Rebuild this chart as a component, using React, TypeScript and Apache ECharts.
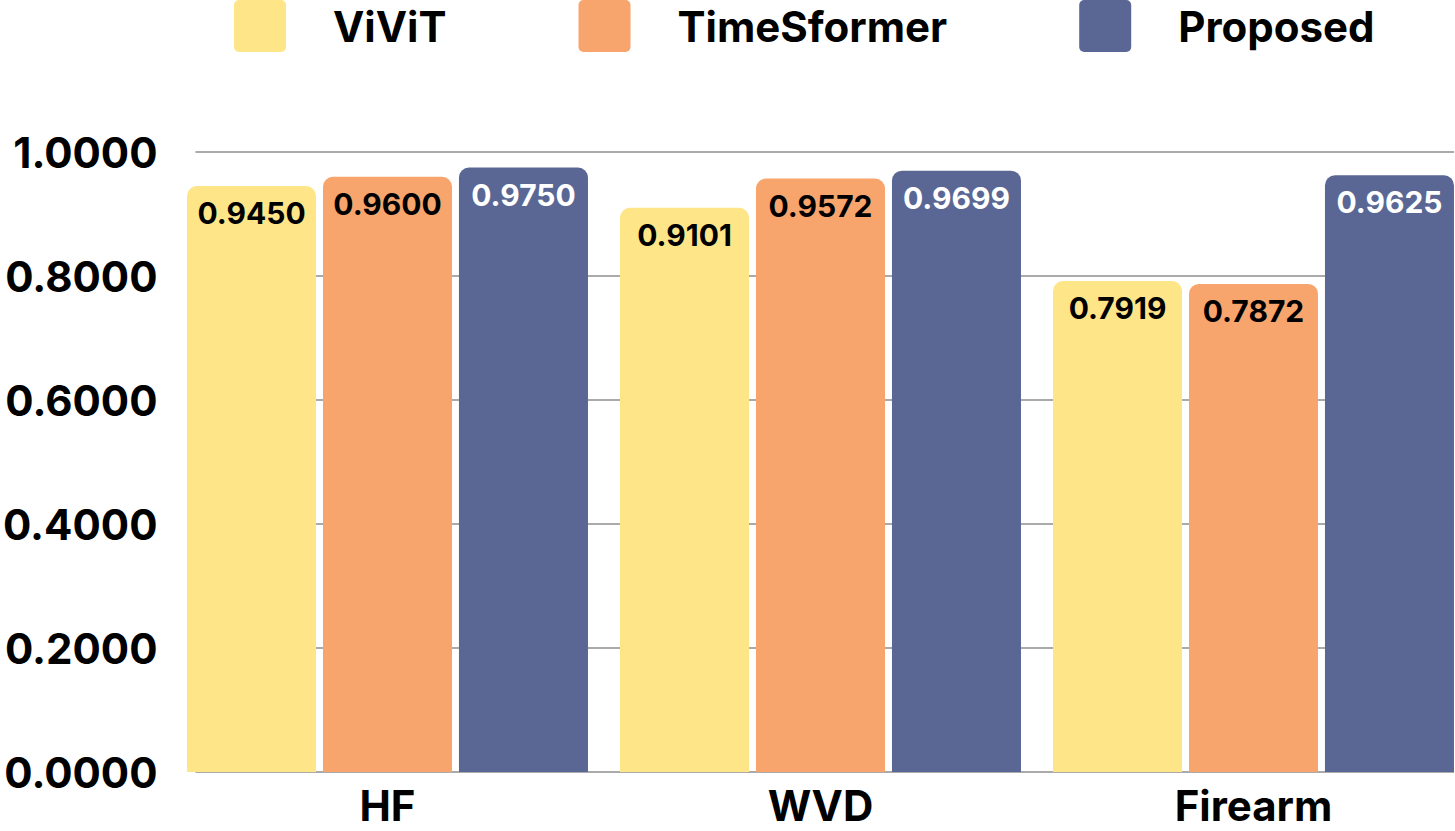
import React, { useEffect, useRef } from "react";
import * as echarts from "echarts";

const categories = ["HF", "WVD", "Firearm"];
const seriesNames = ["ViViT", "TimeSformer", "Proposed"];
const vivit = [0.945, 0.9101, 0.7919];
const timesformer = [0.96, 0.9572, 0.7872];
const proposed = [0.975, 0.9699, 0.9625];
const colors = ["#FDE588", "#F7A46D", "#5A6794"];
const labelColors = ["#000000", "#000000", "#FFFFFF"];

const FONT = "Inter";

export default function App() {
  const ref = useRef<HTMLDivElement>(null);
  useEffect(() => {
    document.body.style.margin = "0";
    document.body.style.overflow = "hidden";
    const chart = echarts.init(ref.current!, null, { renderer: "svg" });
    const values = [vivit, timesformer, proposed];
    const iconPath =
      "path://M5,0 H47 A5,5 0 0 1 52,5 V47 A5,5 0 0 1 47,52 H5 A5,5 0 0 1 0,47 V5 A5,5 0 0 1 5,0 Z";
    chart.setOption({
      animation: false,
      textStyle: { fontFamily: FONT },
      legend: {
        left: 234,
        top: 0,
        padding: 0,
        itemWidth: 52,
        itemHeight: 52,
        itemGap: 132,
        icon: iconPath,
        data: seriesNames,
        textStyle: {
          fontFamily: FONT,
          fontSize: 42,
          fontWeight: "bold",
          color: "#000",
          padding: [0, 0, 0, 42],
        },
      },
      grid: [
        { left: 171, top: 152, width: 1299, height: 620, containLabel: false },
        { left: 187, top: 152, width: 1267, height: 620, containLabel: false },
      ],
      xAxis: [
        {
          type: "category",
          gridIndex: 0,
          data: categories,
          axisLine: { show: false },
          axisTick: { show: false },
          axisLabel: {
            fontFamily: FONT,
            fontSize: 42,
            fontWeight: "bold",
            color: "#000",
            margin: 16,
            lineHeight: 34,
          },
        },
        { type: "value", gridIndex: 1, show: false, min: 0, max: 1 },
      ],
      yAxis: [
        { type: "value", gridIndex: 0, min: 0, max: 1, show: false },
        {
          type: "value",
          gridIndex: 1,
          min: 0,
          max: 1,
          interval: 0.2,
          axisLine: { show: false },
          axisTick: { show: false },
          splitLine: { lineStyle: { color: "#AAAAAA", width: 2 } },
          axisLabel: {
            formatter: (v: number) => v.toFixed(4),
            fontFamily: FONT,
            fontSize: 42,
            fontWeight: "bold",
            color: "#000",
            margin: 38,
          },
        },
      ],
      series: seriesNames.map((name, i) => ({
        name,
        type: "bar",
        xAxisIndex: 0,
        yAxisIndex: 0,
        data: values[i],
        barGap: "5.4%",
        barCategoryGap: "7.4%",
        itemStyle: { color: colors[i], borderRadius: [10, 10, 0, 0] },
        label: {
          show: true,
          position: "insideTop",
          distance: 12,
          formatter: (p: any) => p.value.toFixed(4),
          fontFamily: FONT,
          fontSize: 30,
          fontWeight: "bold",
          color: labelColors[i],
        },
      })),
    });
    return () => chart.dispose();
  }, []);
  return <div ref={ref} style={{ width: 1470, height: 831 }} />;
}
